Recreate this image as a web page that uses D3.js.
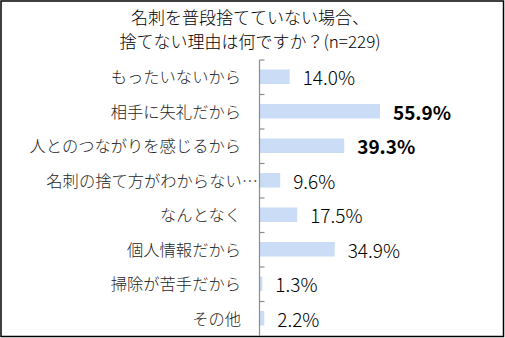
<!DOCTYPE html>
<html>
<head>
<meta charset="utf-8">
<script src="https://cdn.jsdelivr.net/npm/d3@7"></script>
<style>
  html, body { margin: 0; padding: 0; background: #fff; }
  svg { display: block; }
</style>
</head>
<body>
<svg id="chart" width="505" height="338"></svg>
<script>
// Reasons for keeping business cards (n=229)
const titleLines = ["名刺を普段捨てていない場合、", "捨てない理由は何ですか？(n=229)"];
const categories = [
  "もったいないから",
  "相手に失礼だから",
  "人とのつながりを感じるから",
  "名刺の捨て方がわからない…",
  "なんとなく",
  "個人情報だから",
  "掃除が苦手だから",
  "その他"
];
const values = [14.0, 55.9, 39.3, 9.6, 17.5, 34.9, 1.3, 2.2];
const highlighted = ["相手に失礼だから", "人とのつながりを感じるから"];

const W = 505, H = 338;
const font = "'Noto Sans CJK JP', 'Noto Sans', sans-serif";
const svg = d3.select("#chart");

// frame
svg.append("rect")
  .attr("x", 1).attr("y", 1)
  .attr("width", W - 2.5).attr("height", H - 2.5)
  .attr("fill", "#fff")
  .attr("stroke", "#000").attr("stroke-width", 1.5);

// title
svg.append("g").selectAll("text").data(titleLines).join("text")
  .attr("x", 250)
  .attr("y", (d, i) => 24 + i * 23.5)
  .attr("text-anchor", "middle")
  .attr("font-family", font)
  .attr("font-size", 17)
  .attr("font-weight", 300)
  .attr("fill", "#000")
  .text(d => d);

const axisX = 259.5;
const x = d3.scaleLinear().domain([0, 100]).range([axisX, 475]);
const y = d3.scaleBand().domain(categories).range([60, 336]).padding(0);
const barH = 14.5;

// bars
svg.append("g").selectAll("rect").data(categories).join("rect")
  .attr("x", x(0))
  .attr("y", d => y(d) + (y.bandwidth() - barH) / 2 - 0.5)
  .attr("width", (d, i) => x(values[i]) - x(0))
  .attr("height", barH)
  .attr("fill", "#cadcf6");

// category axis with inward ticks on row boundaries
const axis = svg.append("g").attr("transform", `translate(${axisX},0)`);
axis.append("line")
  .attr("x1", 0).attr("x2", 0)
  .attr("y1", 60).attr("y2", 336)
  .attr("stroke", "#8c8c8c").attr("stroke-width", 1.2);
axis.selectAll("line.tick").data(categories).join("line")
  .attr("class", "tick")
  .attr("x1", 0).attr("x2", 5)
  .attr("y1", d => y(d)).attr("y2", d => y(d))
  .attr("stroke", "#8c8c8c").attr("stroke-width", 1.2);

// category labels
svg.append("g").selectAll("text").data(categories).join("text")
  .attr("x", d => d.endsWith("…") ? 258 : 241)
  .attr("y", d => y(d) + y.bandwidth() / 2 - 1)
  .attr("dominant-baseline", "central")
  .attr("text-anchor", "end")
  .attr("font-family", font)
  .attr("font-size", 16.3)
  .attr("font-weight", 300)
  .attr("fill", "#262626")
  .text(d => d);

// value labels
svg.append("g").selectAll("text").data(categories).join("text")
  .attr("x", (d, i) => x(values[i]) + 13)
  .attr("y", d => y(d) + y.bandwidth() / 2 - 0.5)
  .attr("dominant-baseline", "central")
  .attr("font-family", font)
  .attr("font-size", 19)
  .attr("font-weight", d => highlighted.includes(d) ? 700 : 300)
  .attr("fill", "#000")
  .text((d, i) => values[i].toFixed(1) + "%");
</script>
</body>
</html>
